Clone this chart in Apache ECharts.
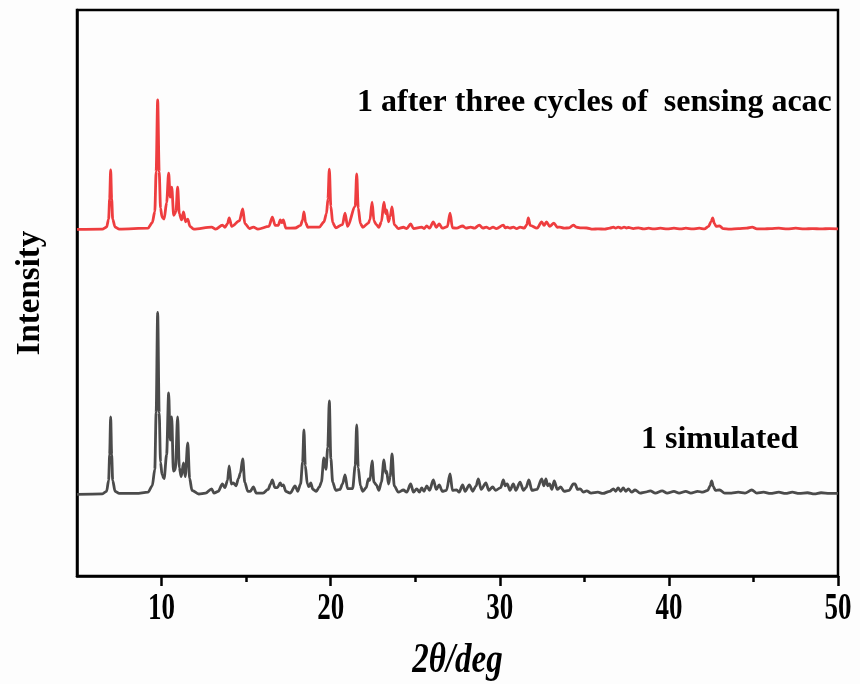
<!DOCTYPE html>
<html>
<head>
<meta charset="utf-8">
<title>PXRD patterns</title>
<script src="https://cdn.jsdelivr.net/npm/echarts@6/dist/echarts.min.js"></script>
<style>
  html, body { margin: 0; padding: 0; background: #fdfdfd; }
  #chart { width: 860px; height: 684px; }
</style>
</head>
<body>
<div id="chart"></div>
<script>
// Powder patterns, [2θ (deg), relative intensity above the pattern's own baseline]
const simulatedPattern = [
  [5.0,0.3],[6.5,0.6],[6.75,2],[6.87,8],[6.93,22],[6.99,42.7],[7.05,22],[7.11,8],[7.25,2],[7.5,0.8],[8.5,0.8],
  [9.2,1.5],[9.45,5],[9.6,14],[9.68,45],[9.77,100],[9.86,45],[9.94,18],[10.03,11],[10.15,9],[10.3,22],[10.42,55.9],
  [10.51,30],[10.6,42.7],[10.7,13],[10.82,14],[10.95,42.7],[11.05,15],[11.16,10],[11.3,17.5],
  [11.4,10],[11.55,28.5],[11.66,9],[11.8,2.5],[12.2,0.5],[12.6,1],[12.96,3.3],[13.1,1],[13.35,2],
  [13.6,6],[13.75,4],[13.9,8],[14.0,15.9],[14.12,6],[14.24,6.6],[14.4,5],[14.55,9],[14.66,12],
  [14.8,19.7],[14.92,7],[15.1,2],[15.25,2],[15.43,4.4],[15.6,1],[16.0,1],[16.3,3],[16.45,6],
  [16.55,8.2],[16.7,4],[16.85,4],[17.02,6.6],[17.1,5],[17.2,5.5],[17.35,2],[17.6,1],[17.9,4.9],
  [18.05,2],[18.22,6],[18.34,18],[18.42,35.6],[18.5,16],[18.62,6],[18.72,4.5],[18.82,6.6],[18.95,3],[19.15,2],[19.33,4.4],
  [19.45,7],[19.6,20.3],[19.72,14],[19.83,26],[19.92,51.5],[20.01,20],[20.12,7],[20.3,2.5],[20.55,3],[20.7,6],[20.85,11],
  [21.0,3.5],[21.3,3.5],[21.45,16],[21.54,38.3],[21.63,15],[21.76,5],[21.9,2],[22.1,4],[22.23,8.8],[22.32,8],
  [22.45,18.6],[22.56,7],[22.7,5.5],[22.85,2.5],[23.0,7],[23.15,19.2],[23.25,12],[23.31,13],
  [23.42,6],[23.52,10],[23.63,22.5],[23.76,5],[24.0,1.5],[24.3,2.7],[24.5,1.5],[24.73,6],
  [24.9,1.5],[25.09,3.3],[25.25,1.5],[25.38,3.8],[25.52,2],[25.68,4.9],[25.85,2.5],[26.07,8.2],
  [26.25,3],[26.42,5.5],[26.6,2],[26.85,2.5],[27.06,11.5],[27.2,2.5],[27.45,2.7],[27.6,1.5],
  [27.8,5.5],[27.95,2],[28.2,5.5],[28.4,2],[28.6,5],[28.73,8.8],[28.9,3],[29.18,6.6],[29.35,2.5],
  [29.58,4.4],[29.75,2.5],[30.05,4],[30.21,8.2],[30.32,5],[30.44,6],[30.6,2.5],[30.8,6],
  [30.95,2.5],[31.2,7],[31.4,2.5],[31.55,4],[31.72,8.2],[31.9,2.5],[32.2,3],[32.48,8.8],
  [32.6,5],[32.73,8.8],[32.83,5],[32.95,6],[33.08,3],[33.22,7.7],[33.4,3],[33.6,4.4],[33.8,2],
  [34.1,2.5],[34.35,6],[34.45,6],[34.6,3],[34.75,3.3],[34.95,1.5],[35.14,2.2],[35.4,1],
  [35.8,1.5],[36.1,0.8],[36.5,2],[36.72,3.3],[36.85,2],[37.0,3.8],[37.15,2],[37.3,3.8],
  [37.45,2],[37.6,3.3],[37.8,1.5],[38.0,2.7],[38.3,1],[38.6,1.5],[38.9,2.2],[39.2,1],[39.6,2.2],
  [39.9,1],[40.3,2],[40.6,1],[41.0,2],[41.3,1],[41.7,2],[42.0,1.5],[42.3,2.5],[42.44,5],[42.53,7.7],
  [42.63,4.5],[42.75,2.5],[43.0,2.7],[43.3,1],[43.7,1],[44.1,1.5],[44.5,1],[44.9,2.7],[45.2,1],[45.6,1.5],
  [46.0,0.8],[46.5,1.5],[46.9,0.8],[47.3,1.5],[47.7,0.8],[48.2,1.2],[48.6,0.6],[49.0,1.2],
  [49.5,0.8],[50.0,0.8]
];

const cycledPattern = [
  [5.0,0.3],[6.5,0.5],[6.75,1.6],[6.87,6],[6.93,17],[6.99,32.9],[7.05,17],[7.11,6],[7.25,1.6],[7.5,0.5],
  [9.2,1],[9.45,4],[9.6,10],[9.68,32],[9.77,71.2],[9.86,32],[9.94,12],[10.03,7],[10.15,6],[10.3,15],[10.42,31.2],[10.51,18],
  [10.6,23.5],[10.72,8],[10.85,10],[10.95,23.5],[11.05,9],[11.18,5.5],[11.3,9.9],[11.42,4.5],
  [11.55,6],[11.68,2],[11.9,0.5],[12.96,1.6],[13.2,0.5],[13.6,2.7],[13.75,1.5],[13.9,3.5],
  [14.0,6.6],[14.15,2],[14.6,5],[14.8,11.5],[14.93,3.5],[15.2,0.8],[15.43,1.6],[15.7,0.5],
  [16.35,2],[16.55,7.1],[16.72,2.5],[16.9,2.5],[17.02,5.5],[17.12,4],[17.2,5.5],[17.35,1],
  [17.9,1.1],[18.22,2.5],[18.34,5.5],[18.42,9.9],[18.52,4],[18.65,1.5],[18.82,1.6],[19.33,1.6],[19.6,4.4],[19.75,9],
  [19.84,17],[19.92,33.4],[20.01,13],[20.12,4],[20.3,1.2],[20.7,3],[20.85,9.3],[21.0,2],[21.45,13],[21.54,30.7],
  [21.63,12],[21.76,3.5],[21.9,1.5],[22.23,3.8],[22.32,5.5],[22.45,15.3],[22.56,5],[22.7,3],[22.85,1.5],
  [23.0,4.5],[23.15,15.3],[23.25,9],[23.31,11],[23.42,4.5],[23.52,7.5],[23.63,12.6],[23.76,3],
  [24.0,0.8],[24.3,1.5],[24.5,0.8],[24.73,3.3],[24.9,0.8],[25.38,1.6],[25.52,0.8],[25.68,2.2],
  [25.85,1],[26.07,4.4],[26.25,1.5],[26.42,3.3],[26.6,1],[26.9,1.8],[27.06,9.3],[27.2,1.2],
  [27.45,1],[27.8,2.2],[28.0,1],[28.28,1.6],[28.5,1],[28.79,2.7],[29.0,1],[29.2,1.6],[29.4,0.8],
  [29.6,1.6],[29.8,0.8],[30.21,2.7],[30.32,1.2],[30.44,1.6],[30.6,1],[30.8,1.6],[31.0,0.8],
  [31.2,1.6],[31.45,1],[31.6,3],[31.69,6.6],[31.8,2.5],[32.2,1],[32.48,4.4],[32.62,2.5],[32.76,4.4],
  [32.95,2],[33.2,3.8],[33.4,1.5],[33.56,1.6],[33.8,1],[34.1,1.2],[34.35,2.7],[34.55,1.5],
  [34.8,1.2],[35.14,1.1],[35.5,0.5],[35.8,0.6],[36.2,0.5],[36.5,1],[36.72,1.6],[36.85,1],
  [37.0,1.6],[37.2,1],[37.35,1.6],[37.5,1.1],[37.6,1.4],[37.9,0.8],[38.2,1.2],[38.5,0.6],
  [38.8,1],[39.1,0.6],[39.5,1],[39.9,0.6],[40.3,1],[40.7,0.6],[41.0,1],[41.4,0.6],[41.8,1],
  [42.1,0.6],[42.35,2],[42.49,4.5],[42.59,6.6],[42.69,3.5],[42.8,2],[43.0,2.2],[43.2,0.8],[43.6,0.5],[44.1,0.8],
  [44.6,1],[44.93,1.6],[45.2,0.6],[45.6,0.6],[46.0,0.8],[46.5,1],[47.0,0.6],[47.5,1],[48.0,0.6],
  [48.5,0.8],[49.0,0.6],[49.5,0.8],[50.0,0.6]
];

const majorTicks = [10, 20, 30, 40, 50];
const minorTicks = [15, 25, 35, 45];
const patternLabels = ['1 simulated', '1 after three cycles of  sensing acac'];

// vertical stacking of the two traces
const simulatedOffset = 44.4;
const cycledOffset = 189.5;

const serif = '"Times New Roman", "Liberation Serif", serif';
const chart = echarts.init(document.getElementById('chart'));

const shift = (pattern, offset) => pattern.map(p => [p[0], p[1] + offset]);

chart.setOption({
  backgroundColor: '#fdfdfd',
  animation: false,
  grid: {
    left: 77, right: 22, top: 10, bottom: 108,
    show: true, borderColor: '#000', borderWidth: 2.5, backgroundColor: 'transparent'
  },
  xAxis: [{
    type: 'value', min: 5, max: 50,
    axisLine: { show: true, onZero: false, lineStyle: { color: '#000', width: 2.5 } },
    axisTick: { show: true, customValues: majorTicks, length: 10, lineStyle: { color: '#000', width: 2.5 } },
    axisLabel: { show: false },
    splitLine: { show: false }
  }, {
    type: 'value', min: 5, max: 50, position: 'bottom', gridIndex: 0,
    axisLine: { show: false },
    axisTick: { show: true, customValues: minorTicks, length: 6, lineStyle: { color: '#000', width: 2.5 } },
    axisLabel: { show: false },
    splitLine: { show: false }
  }],
  yAxis: {
    type: 'value', min: 0, max: 310,
    name: 'Intensity', nameLocation: 'middle', nameGap: 30, nameRotate: 90,
    nameTextStyle: { fontFamily: serif, fontWeight: 'bold', fontSize: 33, color: '#000' },
    axisLine: { show: true, lineStyle: { color: '#000', width: 2.5 } },
    axisTick: { show: false }, axisLabel: { show: false }, splitLine: { show: false }
  },
  series: [{
    name: patternLabels[0], type: 'line', showSymbol: false,
    smooth: 0.3, smoothMonotone: 'x',
    data: shift(simulatedPattern, simulatedOffset),
    lineStyle: { color: '#4b4b4b', width: 2.8 }, itemStyle: { color: '#4b4b4b' }
  }, {
    name: patternLabels[1], type: 'line', showSymbol: false,
    smooth: 0.3, smoothMonotone: 'x',
    data: shift(cycledPattern, cycledOffset),
    lineStyle: { color: '#ee3d3f', width: 2.8 }, itemStyle: { color: '#ee3d3f' }
  }]
});

// tick labels and axis title use a tall, narrow serif face
const texts = [];
majorTicks.forEach(v => {
  const px = chart.convertToPixel({ xAxisIndex: 0 }, v);
  texts.push({
    type: 'text', x: px, y: 609, scaleY: 1.4, silent: true,
    style: { text: String(v), fontFamily: serif, fontWeight: 'bold', fontSize: 27,
             fill: '#000', align: 'center', verticalAlign: 'middle' }
  });
});
const midX = (chart.convertToPixel({ xAxisIndex: 0 }, 5) + chart.convertToPixel({ xAxisIndex: 0 }, 50)) / 2;
texts.push({
  type: 'text', x: midX, y: 661, scaleY: 1.3, silent: true,
  style: { text: '2θ/deg', fontFamily: serif, fontWeight: 'bold', fontStyle: 'italic', fontSize: 33,
           fill: '#000', align: 'center', verticalAlign: 'middle' }
});
texts.push({
  type: 'text', x: 357, y: 103, silent: true,
  style: { text: patternLabels[1], fontFamily: serif, fontWeight: 'bold', fontSize: 32,
           fill: '#000', align: 'left', verticalAlign: 'middle' }
});
texts.push({
  type: 'text', x: 641, y: 440, silent: true,
  style: { text: patternLabels[0], fontFamily: serif, fontWeight: 'bold', fontSize: 32,
           fill: '#000', align: 'left', verticalAlign: 'middle' }
});
chart.setOption({ graphic: texts });
</script>
</body>
</html>
